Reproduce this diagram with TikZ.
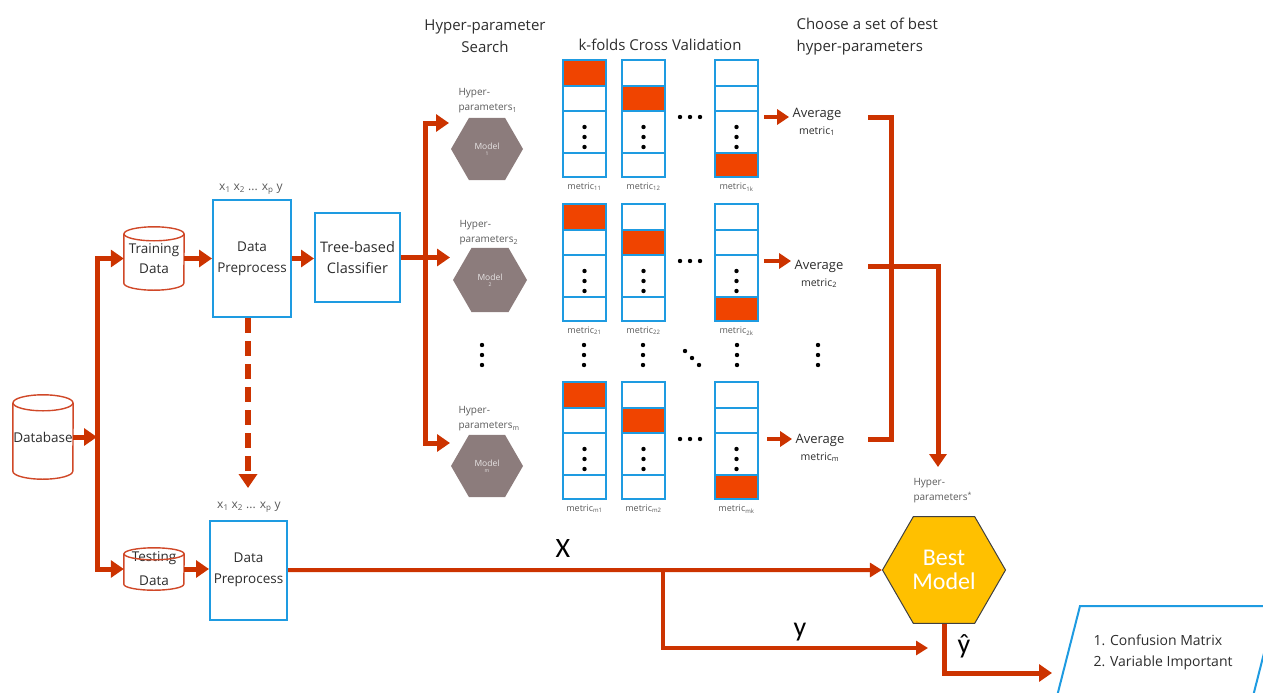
\documentclass[tikz,border=0pt]{standalone}
\usepackage{fontspec}
\setmainfont{Open Sans}
\newfontfamily\calfont{Carlito}
\usetikzlibrary{arrows.meta,shapes.geometric,calc}
\definecolor{arrred}{RGB}{204,51,0}
\definecolor{foldred}{RGB}{240,68,0}
\definecolor{boxblue}{RGB}{30,155,225}
\definecolor{cylred}{RGB}{208,72,40}
\definecolor{modgray}{RGB}{140,124,124}
\definecolor{gold}{RGB}{255,192,0}
\definecolor{txt}{RGB}{45,45,45}
\definecolor{ltxt}{RGB}{90,90,90}
\newcommand{\fs}[2]{\fontsize{#1}{#2}\selectfont}
\newcommand{\mydots}[2]{\fill (#1,#2) circle (2.2) (#1,#2+10) circle (2.2) (#1,#2+20) circle (2.2);}
\begin{document}
\begin{tikzpicture}[x=1pt,y=-1pt,
  conn/.style={draw=arrred,line width=5pt,line join=miter},
  arr/.style={conn,-{Triangle[length=13pt,width=17pt]}},
  smallarr/.style={draw=arrred,line width=4.5pt,-{Triangle[length=12pt,width=15pt]}},
  thinarr/.style={draw=arrred,line width=4pt,line join=miter,-{Triangle[length=12pt,width=14pt]}},
  bluebox/.style={draw=boxblue,line width=2pt,inner sep=0pt,align=center,text=txt,font=\fs{13.5}{21}},
  cylnode/.style={inner sep=0pt,align=center,text=txt,font=\fs{13.5}{20},minimum width=60pt},
  cylline/.style={draw=cylred,line width=1.4pt},
  model/.style={regular polygon,regular polygon sides=6,fill=modgray,inner sep=0pt,text=white!80!modgray,align=center,font=\fs{8.5}{8}},
  hplab/.style={anchor=west,align=left,text=ltxt,font=\fs{10}{15}},
  met/.style={text=ltxt,font=\fs{9}{10}},
  avg/.style={align=center,text=txt,font=\fs{13}{21}},
  title/.style={align=center,text=txt,font=\fs{15}{22}},
  xlab/.style={text=ltxt,font=\fs{12}{12}},
]
\useasboundingbox (0,0) rectangle (1263,693);

% titles
\node[title] (t1) at (485,36) {Hyper-parameter\\Search};
\node[title] (t2) at (660,45) {k-folds Cross Validation};
\node[title,anchor=west,align=left] (t3) at (793,37) {Choose a set of best\\hyper-parameters};

% cylinders
\node[cylnode,minimum height=84pt] (db) at (43,437) {Database};
\node[cylnode,minimum height=63pt] (train) at (154,258.5) {Training\\Data};
\node[cylnode,minimum height=42pt,font=\fs{13.5}{24}] (test) at (154,569) {Testing\\Data};
\foreach \n/\ry in {db/8,train/7,test/6}{
  \draw[cylline] ($(\n.north)+(0,\ry)$) ellipse [x radius=30,y radius=\ry];
  \draw[cylline] ($(\n.north west)+(0,\ry)$) -- ($(\n.south west)+(0,-\ry)$)
     arc[start angle=180,end angle=0,x radius=30,y radius=\ry] -- ($(\n.north east)+(0,\ry)$);
}

% boxes
\node[bluebox,minimum width=78pt,minimum height=117pt] (dp1) at (252,258.5) {Data\\Preprocess};
\node[bluebox,minimum width=77pt,minimum height=99pt] (dp2) at (248.5,570) {Data\\Preprocess};
\node[bluebox,minimum width=85pt,minimum height=89pt,font=\fs{14.5}{21}] (tree) at (357.5,257.5) {Tree-based\\Classifier};
\node[xlab] (dp1lab) at (251,189) {x\textsubscript{1} x\textsubscript{2} ... x\textsubscript{p} y};
\node[xlab] (dp2lab) at (249,507) {x\textsubscript{1} x\textsubscript{2} ... x\textsubscript{p} y};

% database split
\coordinate (split) at (97,437);
\draw[arr] (db.east) -- (split);
\draw[arr] (split |- test.east) -- (split |- train.east) -- (train.west);
\draw[arr] (split |- train.east) -- (split |- test.east) -- (test.west);
\draw[arr] (train.east) -- (train.east -| dp1.west);
\draw[arr] (test.east) -- (test.east -| dp2.west);
\draw[arr] (dp1.east) -- (dp1.east -| tree.west);
\coordinate (dashend) at (248,488);
\draw[draw=arrred,line width=6pt,dash pattern=on 15pt off 8pt,-{Triangle[length=14pt,width=18pt]}] (dp1.south -| dashend) -- (dashend);

% models
\node[model,minimum size=72pt] (m1) at (487,149) {Model\\[-2pt]{\fs{5}{5}1}};
\node[model,minimum size=74pt] (m2) at (490,280) {Model\\[-2pt]{\fs{5}{5}2}};
\node[model,minimum size=72pt] (mm) at (487,466) {Model\\[-2pt]{\fs{5}{5}m}};
\node[hplab] (hp1) at (455,101) {Hyper-\\parameters\textsubscript{1}};
\node[hplab] (hp2) at (456,233) {Hyper-\\parameters\textsubscript{2}};
\node[hplab] (hpm) at (455,419) {Hyper-\\parameters\textsubscript{m}};
\coordinate (vtop) at (425,123);
\coordinate (vbot) at (425,443);
\coordinate (h1) at (449,123);
\coordinate (h2) at (450,257.5);
\coordinate (hm) at (450,443);
\draw[arr] (vbot) -- (vtop) -- (h1);
\draw[arr] (vtop) -- (vbot) -- (hm);
\draw[arr] (tree.east) -- (h2);
\mydots{482}{345}

% folds
\foreach \r/\top/\i in {1/60/1,2/204/2,3/382/m}{
  \foreach \cx/\fa/\fb/\k in {563/0/26/1,622/26/51/2,715/93/117/k}{
    \fill[foldred] (\cx,\top+\fa) rectangle (\cx+43,\top+\fb);
    \draw[boxblue,line width=2pt] (\cx,\top) rectangle (\cx+43,\top+117);
    \draw[boxblue,line width=2pt] (\cx,\top+26) -- (\cx+43,\top+26) (\cx,\top+51) -- (\cx+43,\top+51) (\cx,\top+93) -- (\cx+43,\top+93);
    \mydots{\cx+21.5}{\top+67}
    \node[met] at (\cx+21.5,\top+127) {metric\textsubscript{\i\k}};
  }
  \fill (680,\top+57) circle (2.2) (690,\top+57) circle (2.2) (700,\top+57) circle (2.2);
  \coordinate (c\r) at (758,\top+57);
}
\mydots{584}{345}
\mydots{643}{345}
\mydots{737}{345}
\mydots{818}{345}
\fill (685,351) circle (2.2) (692,358) circle (2.2) (699,365) circle (2.2);

% averages
\node[avg] (av1) at (817,122) {Average\\[-4pt]{\fs{10.5}{10}metric\textsubscript{1}}};
\node[avg] (av2) at (819,274) {Average\\[-4pt]{\fs{10.5}{10}metric\textsubscript{2}}};
\node[avg] (avm) at (820,448) {Average\\[-4pt]{\fs{10.5}{10}metric\textsubscript{m}}};
\draw[smallarr,shorten <=6pt] (c1) -- (c1 -| av1.west);
\draw[smallarr,shorten <=6pt] (c2) -- (c2 -| av2.west);
\draw[smallarr,shorten <=9pt] (c3) -- (c3 -| avm.west);

\coordinate (b1s) at (868,117);
\coordinate (b1c) at (891,117);
\coordinate (b2c) at (891,439);
\coordinate (b2s) at (868,439);
\draw[conn] (b1s) -- (b1c) -- (b2c) -- (b2s);
\coordinate (r2s) at (868,266);
\coordinate (bestin) at (938,467);
\draw[arr] (r2s) -| (bestin);

% best model
\node[regular polygon,regular polygon sides=6,minimum size=123pt,inner sep=0pt,fill=gold,draw=black!75,line width=1pt,text=white,align=center,font=\calfont\fs{24}{24}] (best) at (944,570) {Best\\Model};
\node[hplab] (hpb) at (910,491) {Hyper-\\parameters\textsuperscript{*}};

\draw[thinarr] (dp2.east) -- (best.west);
\coordinate (br) at (663,570);
\coordinate (yend) at (928,648);
\draw[thinarr] (br) |- (yend);
\node[font=\calfont\fs{28}{28},text=black] (xl) at (563,549) {X};
\node[font=\calfont\fs{28}{28},text=black] (yl) at (800,632) {y};
\node[font=\calfont\fs{28}{28},text=black] (yh) at (964,646) {ŷ};

% output
\begin{scope}
\clip (0,0) rectangle (1263,693);
\coordinate (p1) at (1080,606);
\coordinate (p2) at (1276,606);
\coordinate (p3) at (1249,712);
\coordinate (p4) at (1053,712);
\draw[boxblue,line width=2pt] (p1) -- (p2) -- (p3) -- (p4) -- cycle;
\end{scope}
\node[anchor=west,align=left,text=txt,font=\fs{14}{21}] (out) at (1090,652) {1. Confusion Matrix\\2. Variable Important};
\coordinate (outin) at (1052,673);
\draw[arr] (best.south) |- (outin);
\end{tikzpicture}
\end{document}
